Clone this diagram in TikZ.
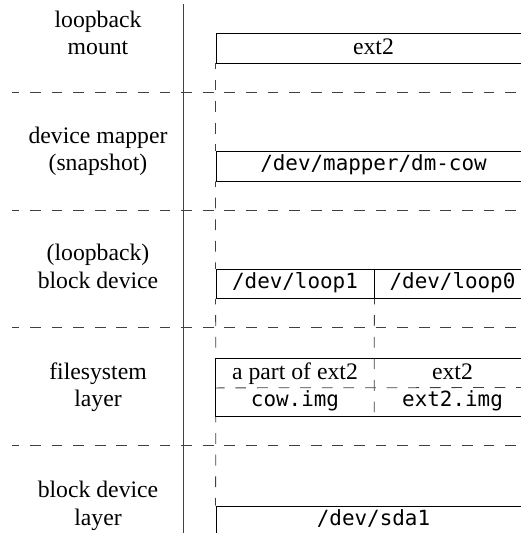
\documentclass[tikz,border=0pt]{standalone}
\usepackage{fontspec}
\setmainfont{Liberation Serif}
\setmonofont{DejaVu Sans Mono}
\begin{document}
\begin{tikzpicture}[x=1bp,y=-1bp,
  rule/.style={line width=1bp,black!75},
  sep/.style={line width=0.8bp,black!75,dash pattern=on 10.8bp off 10.8bp},
  link/.style={line width=0.8bp,black!75,dash pattern=on 10.8bp off 10.8bp,dash phase=5.4bp},
  cell/.style={draw,line width=0.9bp,inner sep=0pt,minimum height=29.3bp},
  rmtxt/.style={font=\fontsize{23.7bp}{27.5bp}\selectfont,text height=17bp,text depth=4.3bp},
  tttxt/.style={font=\fontsize{20.9bp}{24bp}\selectfont\ttfamily,text height=15bp,text depth=6.1bp},
  layer/.style={font=\fontsize{23.7bp}{27.5bp}\selectfont,align=center,anchor=base,inner sep=0pt},
  blank/.style={inner sep=0pt,minimum height=29bp}]
\useasboundingbox (0,0) rectangle (521,533);
\clip (0,0) rectangle (521,533);

% layer boundaries
\draw[rule] (183.7,4.3) -- (183.7,545);
\foreach \y in {92.7,210.2,327.7,445.2}
  \draw[sep,dash phase=3.7bp] (12,\y) -- (540,\y);

% layer names (anchored on the baseline of the last line)
\node[layer] (n1) at (98,54.6) {loopback\\mount};
\node[layer] (n2) at (98,170.6) {device mapper\\(snapshot)};
\node[layer] (n3) at (98,288.3) {(loopback)\\block device};
\node[layer] (n4) at (98,406.6) {filesystem\\layer};
\node[layer] (n5) at (98,525.2) {block device\\layer};

% stacked devices
\node[cell,rmtxt,minimum width=315bp] (mnt) at (373.5,48.35) {ext2};
\node[cell,tttxt,minimum width=315bp] (dm) at (373.5,166.35) {/dev/mapper/dm-cow};
\node[cell,tttxt,minimum width=158bp] (loop1) at (295,283.85) {/dev/loop1};
\node[cell,tttxt,minimum width=157bp] (loop0) at (452.5,283.85) {/dev/loop0};

% filesystem layer: two files, each holding a part of ext2
\node[blank,rmtxt,minimum width=158bp] (fsa) at (295,373.2) {a part of ext2};
\node[blank,rmtxt,minimum width=157bp] (fsb) at (452.5,373.2) {ext2};
\node[blank,tttxt,minimum width=158bp] (fsc) at (295,402.2) {cow.img};
\node[blank,tttxt,minimum width=157bp] (fsd) at (452.5,402.2) {ext2.img};
\draw[line width=0.9bp] (fsb.north east) -- (fsa.north west) -- (fsc.south west) -- (fsd.south east);
\draw[sep,dash phase=2bp] (fsa.south west) -- (fsd.north east);

\node[cell,tttxt,minimum width=315bp] (sda) at (373.5,520.6) {/dev/sda1};

% mappings between layers
\draw[link] (mnt.south west) -- (dm.north west);
\draw[link] (dm.south west) -- (loop1.north west);
\draw[link] (loop1.south west) -- (fsa.north west);
\draw[link] (loop1.south east) -- (fsa.north east) -- (fsc.south east);
\draw[link] (fsc.south west) -- (sda.north west);
\end{tikzpicture}
\end{document}
